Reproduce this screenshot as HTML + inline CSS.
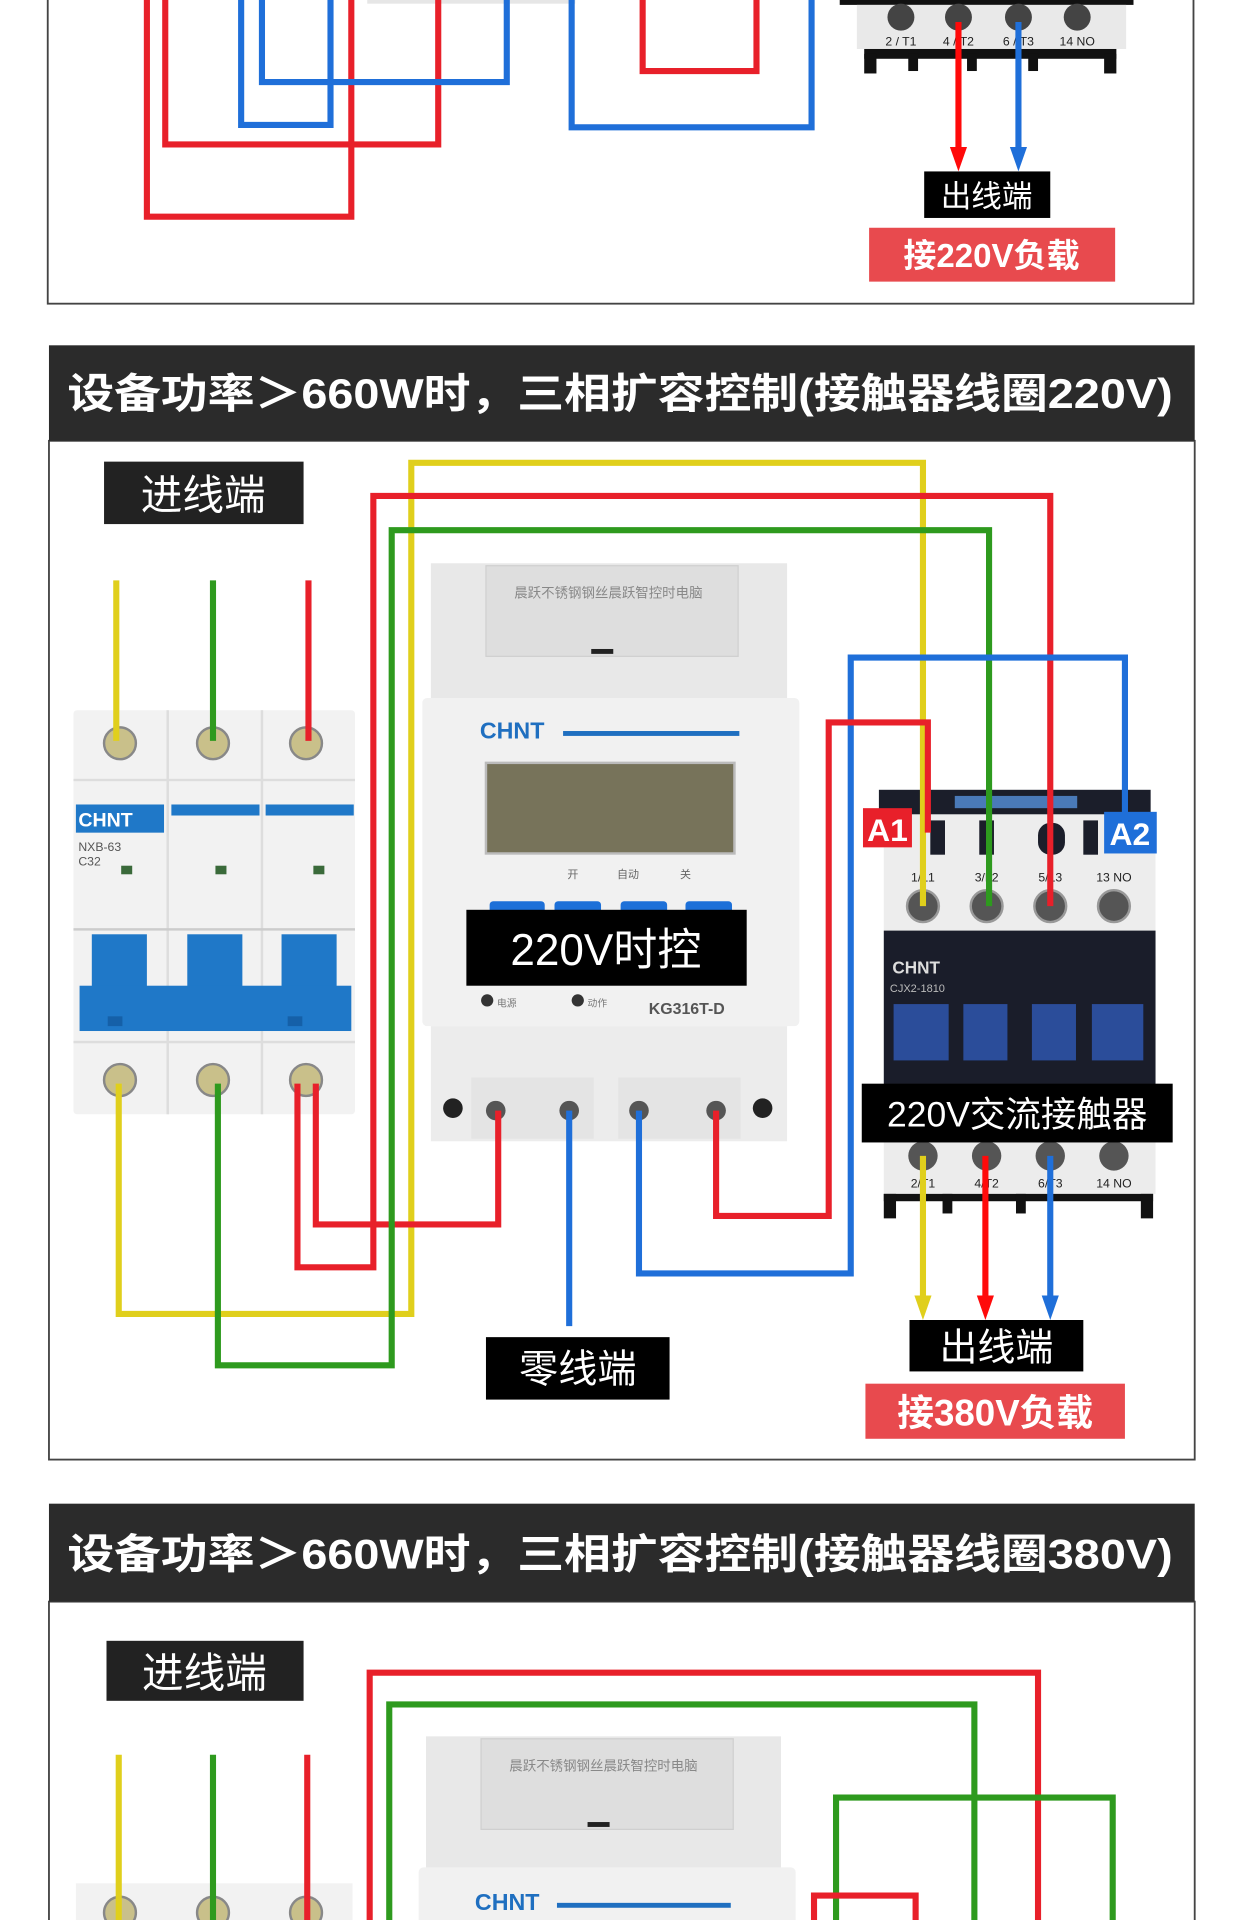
<!DOCTYPE html>
<html><head><meta charset="utf-8"><style>
html,body{margin:0;padding:0;background:#fff;}
svg{display:block;}
text{font-family:"Liberation Sans","Noto Sans CJK SC",sans-serif;}
</style></head><body>
<svg width="1240" height="1920" viewBox="0 0 1013 1568" preserveAspectRatio="none" xmlns="http://www.w3.org/2000/svg">
<rect width="1024" height="1568" fill="#fff"/>
<!-- ===== Section 1 (partial) ===== -->
<rect x="39" y="-10" width="936" height="258" fill="none" stroke="#444" stroke-width="1.5"/>
<rect x="300" y="-2" width="170" height="5" fill="#e6e6e6"/>
<g fill="none" stroke-width="5">
<polyline points="120,0 120,177 287,177 287,0" stroke="#e8202a"/>
<polyline points="135,0 135,118 358,118 358,0" stroke="#e8202a"/>
<polyline points="197,0 197,102 270,102 270,0" stroke="#1f6fd9"/>
<polyline points="214,0 214,67 414,67 414,0" stroke="#1f6fd9"/>
<polyline points="525,0 525,58 618,58 618,0" stroke="#e8202a"/>
<polyline points="467,0 467,104 663,104 663,0" stroke="#1f6fd9"/>
</g>
<rect x="686" y="-2" width="240" height="6" fill="#111"/>
<rect x="700" y="4" width="220" height="36" fill="#e9e9e9"/>
<g fill="#444"><circle cx="736" cy="14" r="11"/><circle cx="783" cy="14" r="11"/><circle cx="832" cy="14" r="11"/><circle cx="880" cy="14" r="11"/></g>
<g font-size="10" fill="#222" text-anchor="middle"><text x="736" y="37">2 / T1</text><text x="783" y="37">4 / T2</text><text x="832" y="37">6 / T3</text><text x="880" y="37">14 NO</text></g>
<rect x="706" y="40" width="206" height="8" fill="#111"/>
<g fill="#111"><rect x="706" y="44" width="10" height="16"/><rect x="742" y="44" width="8" height="14"/><rect x="790" y="44" width="8" height="14"/><rect x="840" y="44" width="8" height="14"/><rect x="902" y="44" width="10" height="16"/></g>
<line x1="783" y1="18" x2="783" y2="125" stroke="#ff0a0a" stroke-width="5"/>
<polygon points="776,120 790,120 783,140" fill="#ff0a0a"/>
<line x1="832" y1="18" x2="832" y2="125" stroke="#1f6fd9" stroke-width="5"/>
<polygon points="825,120 839,120 832,140" fill="#1f6fd9"/>
<rect x="755" y="140" width="103" height="38" fill="#000"/>
<text x="806" y="169" font-size="25" fill="#fff" text-anchor="middle">出线端</text>
<rect x="710" y="186" width="201" height="44" fill="#e84a4e"/>
<text x="810" y="218" font-size="27" fill="#fff" text-anchor="middle" font-weight="bold">接220V负载</text>

<!-- ===== Section 2 ===== -->
<rect x="40" y="360" width="936" height="832" fill="none" stroke="#444" stroke-width="1.5"/>
<rect x="40" y="282" width="936" height="78" fill="#2b2b2b"/>
<text x="55" y="333" font-size="34" font-weight="bold" fill="#fff" textLength="903" lengthAdjust="spacingAndGlyphs">设备功率＞660W时，三相扩容控制(接触器线圈220V)</text>
<rect x="85" y="377" width="163" height="51" fill="#222"/>
<text x="166" y="416" font-size="34" fill="#fff" text-anchor="middle">进线端</text>

<g>
<rect x="60" y="580" width="230" height="330" fill="#f2f2f2" rx="3"/>
<rect x="136" y="580" width="2" height="330" fill="#ddd"/><rect x="213" y="580" width="2" height="330" fill="#ddd"/>
<rect x="60" y="636" width="230" height="2" fill="#ddd"/>
<g fill="#c9c08a" stroke="#888" stroke-width="2"><circle cx="98" cy="607" r="13"/><circle cx="174" cy="607" r="13"/><circle cx="250" cy="607" r="13"/><circle cx="98" cy="882" r="13"/><circle cx="174" cy="882" r="13"/><circle cx="250" cy="882" r="13"/></g>
<rect x="62" y="657" width="72" height="23" fill="#1f78c8"/>
<text x="64" y="675" font-size="16" font-weight="bold" fill="#fff">CHNT</text>
<rect x="140" y="657" width="72" height="9" fill="#1f78c8"/><rect x="217" y="657" width="72" height="9" fill="#1f78c8"/>
<text x="64" y="695" font-size="10" fill="#555">NXB-63</text><text x="64" y="707" font-size="10" fill="#555">C32</text>
<g fill="#3a6a3a"><rect x="99" y="707" width="9" height="7"/><rect x="176" y="707" width="9" height="7"/><rect x="256" y="707" width="9" height="7"/></g>
<rect x="60" y="758" width="230" height="2" fill="#ccc"/>
<g fill="#1f78c8"><rect x="75" y="763" width="45" height="48"/><rect x="153" y="763" width="45" height="48"/><rect x="230" y="763" width="45" height="48"/></g>
<rect x="65" y="805" width="222" height="37" fill="#1f78c8"/>
<g fill="#1560a8"><rect x="88" y="830" width="12" height="8"/><rect x="235" y="830" width="12" height="8"/></g>
<rect x="60" y="850" width="230" height="2" fill="#ddd"/>
</g>

<g>
<rect x="352" y="460" width="291" height="112" fill="#e8e8e8"/>
<rect x="397" y="462" width="206" height="74" fill="#dedede" stroke="#cfcfcf"/>
<text x="497" y="488" font-size="11" fill="#888" text-anchor="middle">晨跃不锈钢钢丝晨跃智控时电脑</text>
<rect x="483" y="530" width="18" height="4" fill="#222"/>
<rect x="345" y="570" width="308" height="268" fill="#f1f1f1" rx="4"/>
<text x="392" y="603" font-size="19" font-weight="bold" fill="#1f6fc0">CHNT</text>
<rect x="460" y="597" width="144" height="4" fill="#1f6fc0"/>
<rect x="397" y="623" width="203" height="74" fill="#77735a" stroke="#bbb" stroke-width="2"/>
<g font-size="9" fill="#666" text-anchor="middle"><text x="468" y="717">开</text><text x="513" y="717">自动</text><text x="560" y="717">关</text></g>
<g fill="#1d70d8"><rect x="400" y="736" width="45" height="10" rx="3"/><rect x="453" y="736" width="38" height="10" rx="3"/><rect x="507" y="736" width="38" height="10" rx="3"/><rect x="560" y="736" width="38" height="10" rx="3"/></g>
<rect x="381" y="743" width="229" height="62" fill="#000"/>
<text x="495" y="788" font-size="36" fill="#fff" text-anchor="middle">220V时控</text>
<circle cx="398" cy="817" r="5" fill="#333"/><circle cx="472" cy="817" r="5" fill="#333"/>
<text x="406" y="822" font-size="8" fill="#777">电源</text><text x="480" y="822" font-size="8" fill="#777">动作</text>
<text x="530" y="828" font-size="13" font-weight="bold" fill="#555">KG316T-D</text>
<rect x="352" y="838" width="291" height="94" fill="#ececec"/>
<rect x="385" y="880" width="100" height="50" fill="#e4e4e4"/><rect x="505" y="880" width="100" height="50" fill="#e4e4e4"/>
<g fill="#222"><circle cx="370" cy="905" r="8"/><circle cx="623" cy="905" r="8"/></g>
<g fill="#555"><circle cx="405" cy="907" r="8"/><circle cx="465" cy="907" r="8"/><circle cx="522" cy="907" r="8"/><circle cx="585" cy="907" r="8"/></g>
</g>

<g>
<rect x="718" y="645" width="222" height="22" fill="#1b1e2a"/>
<rect x="780" y="650" width="100" height="10" fill="#4a7ab8"/>
<rect x="722" y="665" width="222" height="97" fill="#ededed"/>
<g fill="#1b1e2a"><rect x="760" y="670" width="12" height="28"/><rect x="800" y="670" width="12" height="28"/><rect x="848" y="672" width="22" height="26" rx="10"/><rect x="885" y="670" width="12" height="28"/></g>
<g font-size="10" fill="#222" text-anchor="middle"><text x="754" y="720">1/L1</text><text x="806" y="720">3/L2</text><text x="858" y="720">5/L3</text><text x="910" y="720">13 NO</text></g>
<g fill="#555" stroke="#999" stroke-width="2"><circle cx="754" cy="740" r="13"/><circle cx="806" cy="740" r="13"/><circle cx="858" cy="740" r="13"/><circle cx="910" cy="740" r="13"/></g>
<rect x="722" y="760" width="222" height="172" fill="#1a1d2a"/>
<text x="729" y="795" font-size="14" font-weight="bold" fill="#ddd">CHNT</text>
<text x="727" y="810" font-size="9" fill="#bbb">CJX2-1810</text>
<g fill="#2b4d9a"><rect x="730" y="820" width="45" height="46"/><rect x="787" y="820" width="36" height="46"/><rect x="843" y="820" width="36" height="46"/><rect x="892" y="820" width="42" height="46"/></g>
<rect x="722" y="930" width="222" height="45" fill="#ececec"/>
<g fill="#555"><circle cx="754" cy="944" r="12"/><circle cx="806" cy="944" r="12"/><circle cx="858" cy="944" r="12"/><circle cx="910" cy="944" r="12"/></g>
<g font-size="10" fill="#222" text-anchor="middle"><text x="754" y="970">2/T1</text><text x="806" y="970">4/T2</text><text x="858" y="970">6/T3</text><text x="910" y="970">14 NO</text></g>
<rect x="722" y="975" width="220" height="6" fill="#111"/>
<g fill="#111"><rect x="722" y="975" width="10" height="20"/><rect x="770" y="975" width="8" height="16"/><rect x="830" y="975" width="8" height="16"/><rect x="932" y="975" width="10" height="20"/></g>
<rect x="704" y="885" width="254" height="48" fill="#000"/>
<text x="831" y="920" font-size="29" fill="#fff" text-anchor="middle">220V交流接触器</text>
</g>

<g fill="none" stroke-width="5">
<line x1="95" y1="474" x2="95" y2="605" stroke="#e0cf1c"/>
<line x1="174" y1="474" x2="174" y2="605" stroke="#2e9a1e"/>
<line x1="252" y1="474" x2="252" y2="605" stroke="#e8202a"/>
<polyline points="97,885 97,1073 336,1073 336,378 754,378 754,740" stroke="#e0cf1c"/>
<polyline points="243,885 243,1035 305,1035 305,405 858,405 858,740" stroke="#e8202a"/>
<polyline points="258,885 258,1000 407,1000 407,907" stroke="#e8202a"/>
<polyline points="178,885 178,1115 320,1115 320,433 808,433 808,740" stroke="#2e9a1e"/>
<polyline points="465,907 465,1083" stroke="#1f6fd9"/>
<polyline points="522,907 522,1040 695,1040 695,537 919,537 919,680" stroke="#1f6fd9"/>
<polyline points="585,907 585,993 677,993 677,590 758,590 758,680" stroke="#e8202a"/>
<line x1="754" y1="944" x2="754" y2="1062" stroke="#e0cf1c"/>
<line x1="805" y1="944" x2="805" y2="1062" stroke="#ff0a0a"/>
<line x1="858" y1="944" x2="858" y2="1062" stroke="#1f6fd9"/>
</g>
<polygon points="747,1058 761,1058 754,1078" fill="#e0cf1c"/>
<polygon points="798,1058 812,1058 805,1078" fill="#ff0a0a"/>
<polygon points="851,1058 865,1058 858,1078" fill="#1f6fd9"/>
<rect x="705" y="660" width="40" height="32" fill="#e8202a"/>
<text x="725" y="687" font-size="26" font-weight="bold" fill="#fff" text-anchor="middle">A1</text>
<rect x="902" y="663" width="43" height="34" fill="#1f6fd9"/>
<text x="923" y="690" font-size="26" font-weight="bold" fill="#fff" text-anchor="middle">A2</text>
<rect x="397" y="1092" width="150" height="51" fill="#000"/>
<text x="472" y="1129" font-size="32" fill="#fff" text-anchor="middle">零线端</text>
<rect x="743" y="1078" width="142" height="42" fill="#000"/>
<text x="814" y="1111" font-size="31" fill="#fff" text-anchor="middle">出线端</text>
<rect x="707" y="1130" width="212" height="45" fill="#e84a4e"/>
<text x="813" y="1164" font-size="30" font-weight="bold" fill="#fff" text-anchor="middle">接380V负载</text>

<!-- ===== Section 3 ===== -->
<rect x="40" y="1308" width="936" height="270" fill="none" stroke="#444" stroke-width="1.5"/>
<rect x="40" y="1228" width="936" height="80" fill="#2b2b2b"/>
<text x="55" y="1281" font-size="34" font-weight="bold" fill="#fff" textLength="903" lengthAdjust="spacingAndGlyphs">设备功率＞660W时，三相扩容控制(接触器线圈380V)</text>
<rect x="87" y="1340" width="161" height="49" fill="#222"/>
<text x="167" y="1378" font-size="34" fill="#fff" text-anchor="middle">进线端</text>
<rect x="348" y="1418" width="290" height="110" fill="#e8e8e8"/>
<rect x="393" y="1420" width="206" height="74" fill="#dedede" stroke="#cfcfcf"/>
<text x="493" y="1446" font-size="11" fill="#888" text-anchor="middle">晨跃不锈钢钢丝晨跃智控时电脑</text>
<rect x="480" y="1488" width="18" height="4" fill="#222"/>
<rect x="342" y="1525" width="308" height="50" fill="#f1f1f1" rx="4"/>
<text x="388" y="1560" font-size="19" font-weight="bold" fill="#1f6fc0">CHNT</text>
<rect x="455" y="1554" width="142" height="4" fill="#1f6fc0"/>
<rect x="62" y="1538" width="226" height="40" fill="#f2f2f2"/>
<g fill="#c9c08a" stroke="#888" stroke-width="2"><circle cx="98" cy="1562" r="13"/><circle cx="174" cy="1562" r="13"/><circle cx="250" cy="1562" r="13"/></g>
<g fill="none" stroke-width="5">
<line x1="97" y1="1433" x2="97" y2="1570" stroke="#e0cf1c"/>
<line x1="174" y1="1433" x2="174" y2="1570" stroke="#2e9a1e"/>
<line x1="251" y1="1433" x2="251" y2="1570" stroke="#e8202a"/>
<polyline points="302,1570 302,1366 848,1366 848,1570" stroke="#e8202a"/>
<polyline points="318,1570 318,1392 796,1392 796,1570" stroke="#2e9a1e"/>
<polyline points="683,1570 683,1468 909,1468 909,1570" stroke="#2e9a1e"/>
<polyline points="665,1570 665,1548 748,1548 748,1570" stroke="#e8202a"/>
</g>
</svg>
</body></html>
